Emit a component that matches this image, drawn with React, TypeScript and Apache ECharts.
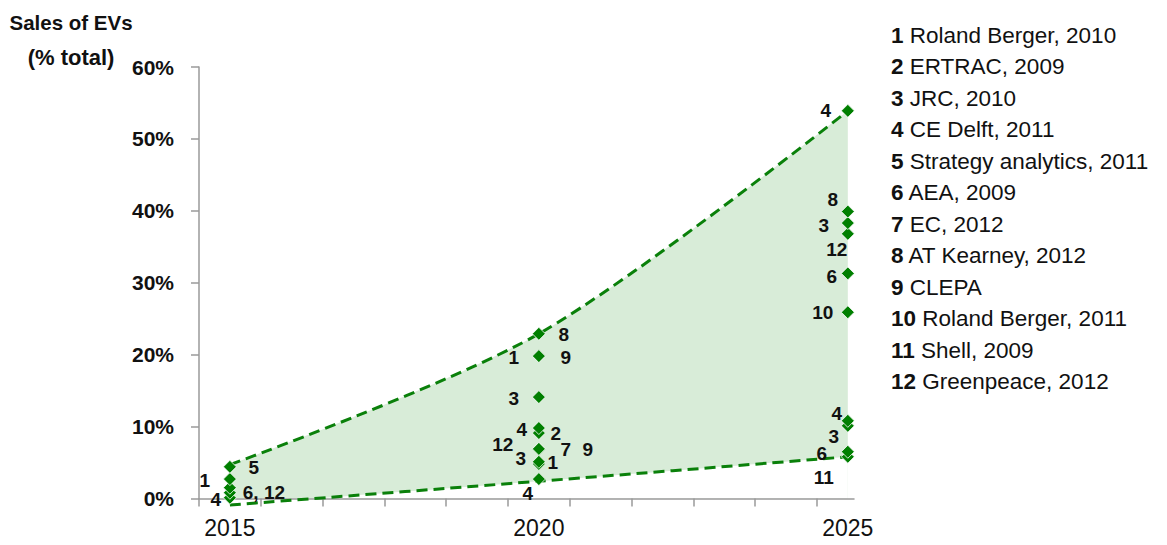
import React, { useEffect, useRef } from "react";
import * as echarts from "echarts";

// ---- axis ticks / labels ----
const xTickYears = [2014.5, 2015.5, 2016.5, 2017.5, 2018.5, 2019.5, 2020.5, 2021.5, 2022.5, 2023.5, 2024.5];
const xLabelYears = [2015, 2020, 2025];

// ---- envelope (range of forecasts, % of total sales) ----
const bandYears = [2015, 2020, 2025];
const upperBound = [4.7, 22.9, 53.9];
const lowerBound = [-0.9, 2.4, 5.8];

// ---- individual study forecasts ----
const pointYears = [
  2015, 2015, 2015, 2015, 2015,
  2020, 2020, 2020, 2020, 2020, 2020, 2020, 2020, 2020, 2020, 2020, 2020,
  2025, 2025, 2025, 2025, 2025, 2025, 2025, 2025, 2025, 2025,
];
const pointValues = [
  0.1, 0.8, 1.5, 2.7, 4.4,
  2.7, 4.8, 5.1, 6.9, 6.9, 6.9, 9.1, 9.8, 14.1, 19.8, 19.8, 22.9,
  5.8, 6.5, 10.1, 10.8, 25.9, 31.3, 36.8, 38.3, 39.9, 53.9,
];
const pointLabels = [
  "4", "6, 12", "", "1", "5",
  "4", "1", "3", "12", "7", "9", "2", "4", "3", "1", "9", "8",
  "11", "6", "3", "4", "10", "6", "12", "3", "8", "4",
];

// ---- legend ----
const legendNumbers = ["1", "2", "3", "4", "5", "6", "7", "8", "9", "10", "11", "12"];
const legendSources = [
  "Roland Berger, 2010",
  "ERTRAC, 2009",
  "JRC, 2010",
  "CE Delft, 2011",
  "Strategy analytics, 2011",
  "AEA, 2009",
  "EC, 2012",
  "AT Kearney, 2012",
  "CLEPA",
  "Roland Berger, 2011",
  "Shell, 2009",
  "Greenpeace, 2012",
];

// ---- axis title ----
const axisTitleLines = ["Sales of EVs", "(% total)"];

// presentation only: label centre offset from its marker centre, px
const labelOffsets: [number, number][] = [
  [-14, 2], [34, 0], [0, 0], [-25, 1], [24, 1],
  [-11, 14], [14, -1], [-18, -3], [-36, -4], [27, 1], [49, 1], [17, 0], [-17, 1], [-25, 1], [-25, 1], [27, 1], [25, 1],
  [-24, 21], [-26, 2], [-14, 11], [-11, -7], [-25, 0], [-16, 3], [-11, 16], [-24, 2], [-15, -12], [-22, 0],
];

const FONT = '"Liberation Sans", Arial, sans-serif';
const GREEN = "#0a800a";
const MARKER = "#007f00";
const FILL = "#d8ecd8";
const AXIS = "#9a9a9a";
const TEXT = "#111111";

export default function App() {
  const ref = useRef<HTMLDivElement>(null);

  useEffect(() => {
    if (!ref.current) return;
    const chart = echarts.init(ref.current, null, { renderer: "svg" });

    const band = (arr: number[]) => bandYears.map((y, i) => [y, arr[i]]);

    const option: any = {
      animation: false,
      backgroundColor: "#ffffff",
      grid: {
        left: 199,
        top: 67,
        width: 655,
        height: 431.5,
        containLabel: false,
        outerBoundsMode: "none",
      },
      xAxis: {
        type: "value",
        min: 2014.5,
        max: 2025.1,
        z: 5,
        axisLine: { show: true, onZero: false, lineStyle: { color: AXIS, width: 1.5 } },
        axisTick: {
          show: true,
          customValues: xTickYears,
          length: 8,
          inside: false,
          lineStyle: { color: AXIS, width: 1.5 },
        },
        axisLabel: {
          customValues: xLabelYears,
          formatter: (v: number) => String(v),
          fontSize: 23,
          fontFamily: FONT,
          color: TEXT,
          margin: 18,
        },
        splitLine: { show: false },
      },
      yAxis: {
        type: "value",
        min: 0,
        max: 60,
        interval: 10,
        z: 5,
        axisLine: { show: true, lineStyle: { color: AXIS, width: 1.5 } },
        axisTick: { show: true, length: 8, inside: false, lineStyle: { color: AXIS, width: 1.5 } },
        axisLabel: {
          formatter: "{value}%",
          fontSize: 21,
          fontWeight: "bold",
          fontFamily: FONT,
          color: TEXT,
          margin: 25,
        },
        splitLine: { show: false },
      },
      series: [
        {
          // green fill from axis up to the upper bound
          name: "rangeFill",
          type: "line",
          data: band(upperBound),
          smooth: 0.3,
          symbol: "none",
          lineStyle: { opacity: 0 },
          areaStyle: { color: FILL, opacity: 1, origin: "start" },
          silent: true,
          z: 1,
        },
        {
          // white mask from axis up to the lower bound
          name: "rangeMask",
          type: "line",
          data: band(lowerBound),
          smooth: 0.3,
          symbol: "none",
          lineStyle: { opacity: 0 },
          areaStyle: { color: "#ffffff", opacity: 1, origin: "start" },
          silent: true,
          z: 1.5,
        },
        {
          name: "upper",
          type: "line",
          data: band(upperBound),
          smooth: 0.3,
          symbol: "none",
          lineStyle: { color: GREEN, width: 3, type: [11, 6] },
          silent: true,
          clip: false,
          z: 6,
        },
        {
          name: "lower",
          type: "line",
          data: band(lowerBound),
          smooth: 0.3,
          symbol: "none",
          lineStyle: { color: GREEN, width: 3, type: [11, 6] },
          silent: true,
          clip: false,
          z: 6,
        },
        {
          name: "studies",
          type: "scatter",
          symbol: "diamond",
          symbolSize: 13,
          clip: false,
          z: 7,
          itemStyle: { color: MARKER, borderColor: "#ffffff", borderWidth: 0.8, opacity: 1 },
          label: {
            show: true,
            position: "inside",
            formatter: (p: any) => pointLabels[p.dataIndex],
            fontSize: 19,
            fontWeight: "bold",
            fontFamily: FONT,
            color: TEXT,
          },
          data: pointYears.map((y, i) => ({
            value: [y, pointValues[i]],
            label: { offset: labelOffsets[i] },
          })),
        },
      ],
      graphic: [
        {
          type: "text",
          x: 71,
          y: 22,
          style: {
            text: axisTitleLines[0],
            textAlign: "center",
            textVerticalAlign: "middle",
            fontSize: 20.5,
            fontWeight: "bold",
            fontFamily: FONT,
            fill: TEXT,
          },
        },
        {
          type: "text",
          x: 71,
          y: 57,
          style: {
            text: axisTitleLines[1],
            textAlign: "center",
            textVerticalAlign: "middle",
            fontSize: 22,
            fontWeight: "bold",
            fontFamily: FONT,
            fill: TEXT,
          },
        },
        {
          type: "group",
          x: 891,
          y: 35,
          children: legendNumbers.map((n, i) => ({
            type: "text",
            x: 0,
            y: i * 31.5,
            style: {
              text: `{b|${n}}{r| ${legendSources[i]}}`,
              textVerticalAlign: "middle",
              fontSize: 22.5,
              fontFamily: FONT,
              fill: TEXT,
              rich: {
                b: { fontSize: 22.5, fontWeight: "bold", fontFamily: FONT, fill: TEXT },
                r: { fontSize: 22.5, fontFamily: FONT, fill: TEXT },
              },
            },
          })),
        },
      ],
    };

    chart.setOption(option);
    return () => chart.dispose();
  }, []);

  return (
    <div
      ref={ref}
      style={{ position: "absolute", left: 0, top: 0, width: 1167, height: 545 }}
    />
  );
}
